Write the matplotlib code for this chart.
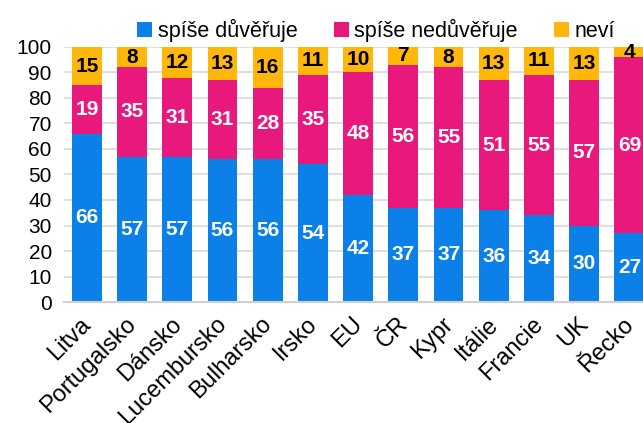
import matplotlib.pyplot as plt
import matplotlib.transforms as mtransforms
import numpy as np

plt.rcParams['font.family'] = ['Liberation Sans', 'DejaVu Sans']

zeme = ['Litva', 'Portugalsko', 'Dánsko', 'Lucembursko', 'Bulharsko', 'Irsko',
        'EU', 'ČR', 'Kypr', 'Itálie', 'Francie', 'UK', 'Řecko']
duveruje = [66, 57, 57, 56, 56, 54, 42, 37, 37, 36, 34, 30, 27]
neduveruje = [19, 35, 31, 31, 28, 35, 48, 56, 55, 51, 55, 57, 69]
nevi = [15, 8, 12, 13, 16, 11, 10, 7, 8, 13, 11, 13, 4]

barvy = ['#0A80E8', '#E8187C', '#FFB80A']
nazvy = ['spíše důvěřuje', 'spíše nedůvěřuje', 'neví']

fig = plt.figure(figsize=(6.43, 4.23), dpi=100)
ax = fig.add_axes([0.100, 0.286, 0.914, 0.603])

x = np.arange(len(zeme))
spodek = np.zeros(len(zeme))
for serie, barva, nazev, txt_barva in zip([duveruje, neduveruje, nevi], barvy, nazvy,
                                          ['white', 'white', 'black']):
    hodnoty = np.array(serie)
    ax.bar(x, hodnoty, 0.66, bottom=spodek, color=barva, label=nazev, zorder=2)
    for xi, b, h in zip(x, spodek, hodnoty):
        ax.text(xi, b + h / 2, str(h), ha='center', va='center', color=txt_barva,
                fontsize=15, fontweight='bold', zorder=3)
    spodek = spodek + hodnoty

ax.set_xlim(-0.5, 12.5)
ax.set_ylim(0, 100)
ax.set_yticks(range(0, 101, 10))
ax.tick_params(axis='y', labelsize=15, length=0, pad=9)
ax.tick_params(axis='x', labelsize=17, length=0, pad=8)
ax.set_xticks(x)
ax.set_xticklabels(zeme, rotation=45, ha='right', rotation_mode='anchor')
# posunout popisky trochu doleva jako v originale
posun = mtransforms.ScaledTranslation(-5 / 72, 0, fig.dpi_scale_trans)
for lbl in ax.get_xticklabels():
    lbl.set_transform(lbl.get_transform() + posun)
ax.yaxis.grid(True, color='#D9D9D9', linewidth=1.2, zorder=0)
ax.set_axisbelow(True)
for s in ['top', 'right', 'left']:
    ax.spines[s].set_visible(False)
ax.spines['bottom'].set_color('#D0D0D0')
ax.spines['bottom'].set_linewidth(1.5)

fig.legend(loc='center', bbox_to_anchor=(0.585, 0.927), ncol=3, frameon=False,
           fontsize=15.5, handlelength=0.7, handleheight=0.7, handletextpad=0.25,
           columnspacing=1.7)

fig.savefig('out.png', dpi=100)
